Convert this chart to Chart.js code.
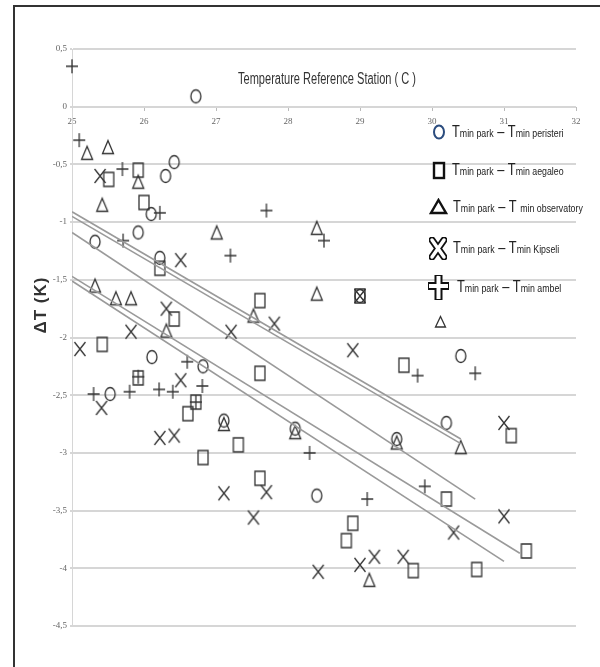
<!DOCTYPE html>
<html>
<head>
<meta charset="utf-8">
<script src="https://cdn.jsdelivr.net/npm/chart.js@4"></script>
<style>
  body { margin: 0; background: #fff; }
  #wrap { position: relative; width: 600px; height: 667px; overflow: hidden; }
  #frame { position: absolute; left: 13px; top: 5px; width: 590px; height: 680px; border-top: 2px solid #333; border-left: 2px solid #333; }
  canvas { position: absolute; left: 0; top: 0; }
  .title { position: absolute; left: 238px; top: 70px; font: 16px 'Liberation Sans', sans-serif; color: #333; white-space: nowrap; transform: scaleX(0.69); transform-origin: left top; }
  .ytitle { position: absolute; left: 41px; top: 305px; font: bold 17px 'Liberation Sans', sans-serif; color: #333; white-space: nowrap; letter-spacing: 1px; transform: translate(-50%, -50%) rotate(-90deg); }
  .leg { position: absolute; white-space: nowrap; color: #222; font-family: 'Liberation Sans', sans-serif; transform: scaleX(0.8); transform-origin: left center; line-height: 16px; }
  .leg .b { font-size: 16px; }
  .leg .s { font-size: 11px; }
  .mk { position: absolute; }
</style>
</head>
<body>
<div id="wrap">
  <canvas id="grafico" width="600" height="667"></canvas>
  <div id="frame"></div>
  <div class="title">Temperature Reference Station ( C )</div>
  <div class="ytitle">ΔT (K)</div>

  <svg class="mk" style="left:432px;top:124px" width="14" height="18"><ellipse cx="7" cy="8" rx="5" ry="6.5" fill="none" stroke="#2b4c7e" stroke-width="2"/></svg>
  <div class="leg" style="left:452px;top:124px"><span class="b">T</span><span class="s">min park</span> <span class="b">–</span> <span class="b">T</span><span class="s">min peristeri</span></div>

  <svg class="mk" style="left:432px;top:161px" width="14" height="19"><rect x="2" y="2" width="10" height="15" fill="none" stroke="#111" stroke-width="2.4"/></svg>
  <div class="leg" style="left:452px;top:162px"><span class="b">T</span><span class="s">min park</span> <span class="b">–</span> <span class="b">T</span><span class="s">min aegaleo</span></div>

  <svg class="mk" style="left:429px;top:198px" width="19" height="17"><polygon points="9.5,2 17,15 2,15" fill="none" stroke="#111" stroke-width="2.4"/></svg>
  <div class="leg" style="left:453px;top:199px"><span class="b">T</span><span class="s">min park</span> <span class="b">–</span> <span class="b">T</span> <span class="s">min observatory</span></div>

  <svg class="mk" style="left:429px;top:237px" width="18" height="23"><path d="M3,3 L15,20 M15,3 L3,20" stroke="#111" stroke-width="7" stroke-linecap="round"/><path d="M3,3 L15,20 M15,3 L3,20" stroke="#fff" stroke-width="3.4" stroke-linecap="round"/></svg>
  <div class="leg" style="left:453px;top:240px"><span class="b">T</span><span class="s">min park</span> <span class="b">–</span> <span class="b">T</span><span class="s">min Kipseli</span></div>

  <svg class="mk" style="left:428px;top:275px" width="21" height="25"><path d="M10.5,3 L10.5,22 M3,11 L18,11" stroke="#111" stroke-width="8" stroke-linecap="square"/><path d="M10.5,3 L10.5,22 M3,11 L18,11" stroke="#fff" stroke-width="4" stroke-linecap="square"/></svg>
  <div class="leg" style="left:457px;top:279px"><span class="b">T</span><span class="s">min park</span> <span class="b">–</span> <span class="b">T</span><span class="s">min ambel</span></div>

  <svg class="mk" style="left:434px;top:315px" width="13" height="14"><polygon points="6.5,1.5 11.5,12 1.5,12" fill="none" stroke="#333" stroke-width="1.3"/></svg>
</div>

<script>
// T min park - T min peristeri (circles)
const peristeriX = [26.72, 26.42, 26.3, 25.92, 26.1, 25.32, 26.22, 26.11, 26.82, 25.53, 30.4, 30.2, 28.4, 27.11, 28.1, 29.51, 29.0];
const peristeriY = [0.09, -0.48, -0.6, -1.09, -0.93, -1.17, -1.31, -2.17, -2.25, -2.49, -2.16, -2.74, -3.37, -2.72, -2.79, -2.88, -1.64];

// aegaleo (squares)
const aegaleoX = [25.51, 25.92, 26.0, 26.22, 25.42, 26.42, 27.61, 27.61, 25.92, 26.72, 26.61, 26.82, 27.31, 27.61, 29.61, 31.1, 30.2, 28.9, 28.81, 31.31, 29.74, 30.62, 29.0];
const aegaleoY = [-0.63, -0.55, -0.83, -1.4, -2.06, -1.84, -1.68, -2.31, -2.35, -2.56, -2.66, -3.04, -2.93, -3.22, -2.24, -2.85, -3.4, -3.61, -3.76, -3.85, -4.02, -4.01, -1.64];

// observatory (triangles)
const observatoryX = [25.21, 25.5, 25.92, 25.42, 27.01, 28.4, 28.4, 25.32, 25.61, 25.82, 26.31, 27.52, 30.4, 27.11, 28.1, 29.51, 29.13];
const observatoryY = [-0.4, -0.35, -0.65, -0.85, -1.09, -1.05, -1.62, -1.55, -1.66, -1.66, -1.94, -1.81, -2.95, -2.75, -2.82, -2.91, -4.1];

// Kipseli (x)
const kipseliX = [25.39, 26.51, 26.31, 25.82, 25.11, 27.21, 27.81, 28.9, 25.41, 26.51, 26.22, 26.42, 27.11, 27.52, 27.7, 29.0, 31.0, 30.3, 31.0, 28.42, 29.0, 29.2, 29.6];
const kipseliY = [-0.6, -1.33, -1.75, -1.95, -2.1, -1.95, -1.88, -2.11, -2.61, -2.37, -2.87, -2.85, -3.35, -3.56, -3.34, -1.64, -2.74, -3.69, -3.55, -4.03, -3.97, -3.9, -3.9];

// ambel (+)
const ambelX = [25.0, 25.1, 25.7, 26.22, 25.71, 27.7, 27.2, 28.5, 26.6, 29.8, 30.6, 25.3, 25.8, 26.21, 26.4, 26.81, 28.3, 29.9, 29.1, 25.92, 26.72];
const ambelY = [0.35, -0.29, -0.54, -0.92, -1.16, -0.9, -1.29, -1.16, -2.21, -2.33, -2.31, -2.49, -2.47, -2.45, -2.47, -2.42, -3.0, -3.29, -3.4, -2.34, -2.56];

// linhas de tendencia (inicio e fim)
const trendX = [[25, 30.4], [25, 30.4], [25, 30.6], [25, 31.22], [25, 31.0]];
const trendY = [[-0.91, -2.88], [-0.95, -2.92], [-1.09, -3.4], [-1.47, -3.87], [-1.51, -3.94]];

const xTicks = [25, 26, 27, 28, 29, 30, 31, 32];

function pares(xs, ys) {
    return xs.map((x, i) => ({ x: x, y: ys[i] }));
}

// marcadores desenhados num canvas pequeno (mais altos que largos, como no original)
function marcador(tipo) {
    const c = document.createElement('canvas');
    c.width = 16;
    c.height = 18;
    const g = c.getContext('2d');
    g.strokeStyle = '#333';
    g.lineWidth = 1.3;
    g.beginPath();
    if (tipo === 'circulo') {
        g.ellipse(8, 9, 5, 6.5, 0, 0, Math.PI * 2);
    } else if (tipo === 'quadrado') {
        g.rect(3, 2, 10, 14);
    } else if (tipo === 'triangulo') {
        g.moveTo(8, 2.5); g.lineTo(13.5, 15.5); g.lineTo(2.5, 15.5); g.closePath();
    } else if (tipo === 'xis') {
        g.moveTo(2.5, 2); g.lineTo(13.5, 16); g.moveTo(13.5, 2); g.lineTo(2.5, 16);
    } else {
        g.moveTo(8, 2); g.lineTo(8, 16); g.moveTo(2, 9); g.lineTo(14, 9);
    }
    g.stroke();
    return c;
}

function serie(label, xs, ys, tipo) {
    return {
        label: label,
        data: pares(xs, ys),
        pointStyle: marcador(tipo),
        pointRadius: 8,
        showLine: false,
        clip: false
    };
}

const datasets = [];
trendX.forEach((xs, i) => {
    datasets.push({
        label: 'trend' + i,
        data: pares(xs, trendY[i]),
        showLine: true,
        borderColor: '#9a9a9a',
        borderWidth: 1.6,
        pointRadius: 0,
        fill: false
    });
});
datasets.push(serie('Tmin park - Tmin peristeri', peristeriX, peristeriY, 'circulo'));
datasets.push(serie('Tmin park - Tmin aegaleo', aegaleoX, aegaleoY, 'quadrado'));
datasets.push(serie('Tmin park - T min observatory', observatoryX, observatoryY, 'triangulo'));
datasets.push(serie('Tmin park - Tmin Kipseli', kipseliX, kipseliY, 'xis'));
datasets.push(serie('Tmin park - Tmin ambel', ambelX, ambelY, 'mais'));

const ctx = document.getElementById('grafico').getContext('2d');
const grafico = new Chart(ctx, {
    type: 'scatter',
    data: { datasets: datasets },
    options: {
        responsive: false,
        animation: false,
        layout: { padding: { left: 0, top: 49, right: 24, bottom: 41 } },
        plugins: { legend: { display: false }, tooltip: { enabled: false } },
        scales: {
            x: {
                type: 'linear',
                min: 25,
                max: 32,
                position: { y: 0 },
                afterBuildTicks: (s) => { s.ticks = xTicks.map(v => ({ value: v })); },
                afterFit: (s) => { s.height = 0; },
                ticks: { color: '#666', font: { family: 'Liberation Serif', size: 9 }, padding: 6 },
                grid: { drawOnChartArea: false, tickLength: 4, color: '#bbb' },
                border: { display: false }
            },
            y: {
                min: -4.5,
                max: 0.5,
                afterFit: (s) => { s.width = 72; },
                ticks: {
                    stepSize: 0.5,
                    color: '#666',
                    padding: 3,
                    font: { family: 'Liberation Serif', size: 9 },
                    callback: (v) => String(v).replace('.', ',')
                },
                grid: { color: '#d6d6d6', lineWidth: 2, tickLength: 2 },
                border: { color: '#d6d6d6', width: 1 }
            }
        }
    }
});
</script>
</body>
</html>
